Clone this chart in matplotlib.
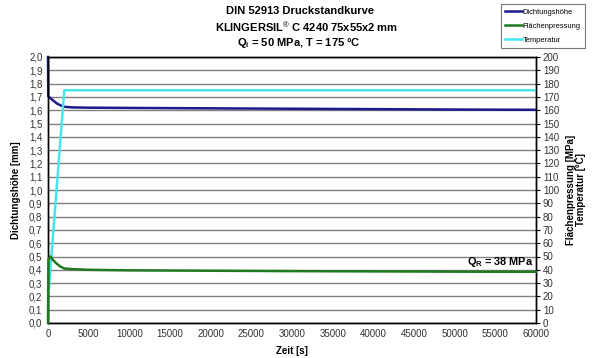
import matplotlib
matplotlib.use("Agg")
import matplotlib.pyplot as plt
from matplotlib.ticker import FixedLocator, FuncFormatter

plt.rcParams['font.family'] = ['Liberation Sans', 'DejaVu Sans']
plt.rcParams['mathtext.fontset'] = 'custom'
plt.rcParams['mathtext.rm'] = 'Liberation Sans'
plt.rcParams['mathtext.bf'] = 'Liberation Sans:bold'
plt.rcParams['mathtext.it'] = 'Liberation Sans:italic'

# Data
t_height = [0, 30, 300, 700, 1100, 1600, 2100, 3000, 5000, 10000, 20000, 30000, 40000, 50000, 60000]
height_mm = [2.0, 1.705, 1.69, 1.67, 1.65, 1.635, 1.625, 1.621, 1.619, 1.617, 1.614, 1.611, 1.608, 1.605, 1.603]

t_press = [0, 60, 300, 600, 1000, 1500, 2000, 3000, 5000, 10000, 20000, 30000, 40000, 50000, 60000]
press_mpa = [0, 48, 50, 47.5, 45, 42.5, 41, 40.5, 40, 39.6, 39.3, 39.0, 38.8, 38.6, 38.5]

t_temp = [0, 100, 2000, 60000]
temp_c = [25, 25, 175, 175]

x_ticks = list(range(0, 60001, 5000))
left_ticks = [i / 10 for i in range(0, 21)]
right_ticks = list(range(0, 201, 10))

fig = plt.figure(figsize=(5.92, 3.58), dpi=100)
ax1 = fig.add_axes([48/592, 1 - 323/358, (536-48)/592, (323-57)/358])
ax2 = ax1.twinx()

ax1.set_xlim(0, 60000)
ax1.set_ylim(0, 2.0)
ax2.set_ylim(0, 200)

ax1.yaxis.set_major_locator(FixedLocator(left_ticks))
ax1.yaxis.set_major_formatter(FuncFormatter(lambda v, p: f"{v:.1f}".replace('.', ',')))
ax1.xaxis.set_major_locator(FixedLocator(x_ticks))
ax1.xaxis.set_major_formatter(FuncFormatter(lambda v, p: f"{int(v)}"))
ax2.yaxis.set_major_locator(FixedLocator(right_ticks))

ax1.grid(axis='y', color='#808080', linewidth=1.0)
ax1.set_axisbelow(True)

tick_color = '#333333'
ax1.tick_params(axis='both', length=0, labelsize=7, labelcolor=tick_color, pad=4)
ax2.tick_params(axis='y', length=3, direction='out', labelsize=7, labelcolor=tick_color, pad=2)

for sp in ['left', 'bottom', 'right', 'top']:
    ax2.spines[sp].set_color('black')
    ax2.spines[sp].set_linewidth(1.0)
    ax1.spines[sp].set_color('black')
    ax1.spines[sp].set_linewidth(1.0)

l1, = ax1.plot(t_height, height_mm, color='#1a1a8c', linewidth=1.8, clip_on=False, zorder=3,
               label='Dichtungshöhe')
l2, = ax2.plot(t_press, press_mpa, color='#1f7a1f', linewidth=1.8, clip_on=False, zorder=3,
               label='Flächenpressung')
l3, = ax2.plot(t_temp, temp_c, color='#44e6f0', linewidth=1.8, clip_on=False, zorder=2,
               label='Temperatur')

ax1.set_xlabel('Zeit [s]', fontsize=7, fontweight='bold', labelpad=5)
ax1.set_ylabel('Dichtungshöhe [mm]', fontsize=7, fontweight='bold', labelpad=6)
ax2.set_ylabel('Flächenpressung [MPa]\nTemperatur [°C]', fontsize=7, fontweight='bold',
               labelpad=5, linespacing=1.0)

ax2.text(59700, 40.5, r'Q$_{\mathbf{R}}$ = 38 MPa', ha='right', va='bottom',
         fontsize=7.8, fontweight='bold')

fig.text(300/592, 1 - 11/358, 'DIN 52913 Druckstandkurve', ha='center', va='center',
         fontsize=8, fontweight='bold')
fig.text(307/592, 1 - 27/358, r'KLINGERSIL$^{\mathrm{®}}$ C 4240 75x55x2 mm', ha='center', va='center',
         fontsize=8, fontweight='bold')
fig.text(299/592, 1 - 43/358, r'Q$_{\mathbf{i}}$ = 50 MPa, T = 175 °C', ha='center', va='center',
         fontsize=8, fontweight='bold')

leg = fig.legend(handles=[l1, l2, l3], loc='upper right', bbox_to_anchor=(585/592, 1 - 4/358),
                 fontsize=5.4, frameon=True, fancybox=False, edgecolor='#555555',
                 handlelength=2.2, handletextpad=0.1, borderpad=0.6, labelspacing=0.9,
                 borderaxespad=0)
leg.get_frame().set_linewidth(0.8)

fig.savefig('out.png', dpi=100)
